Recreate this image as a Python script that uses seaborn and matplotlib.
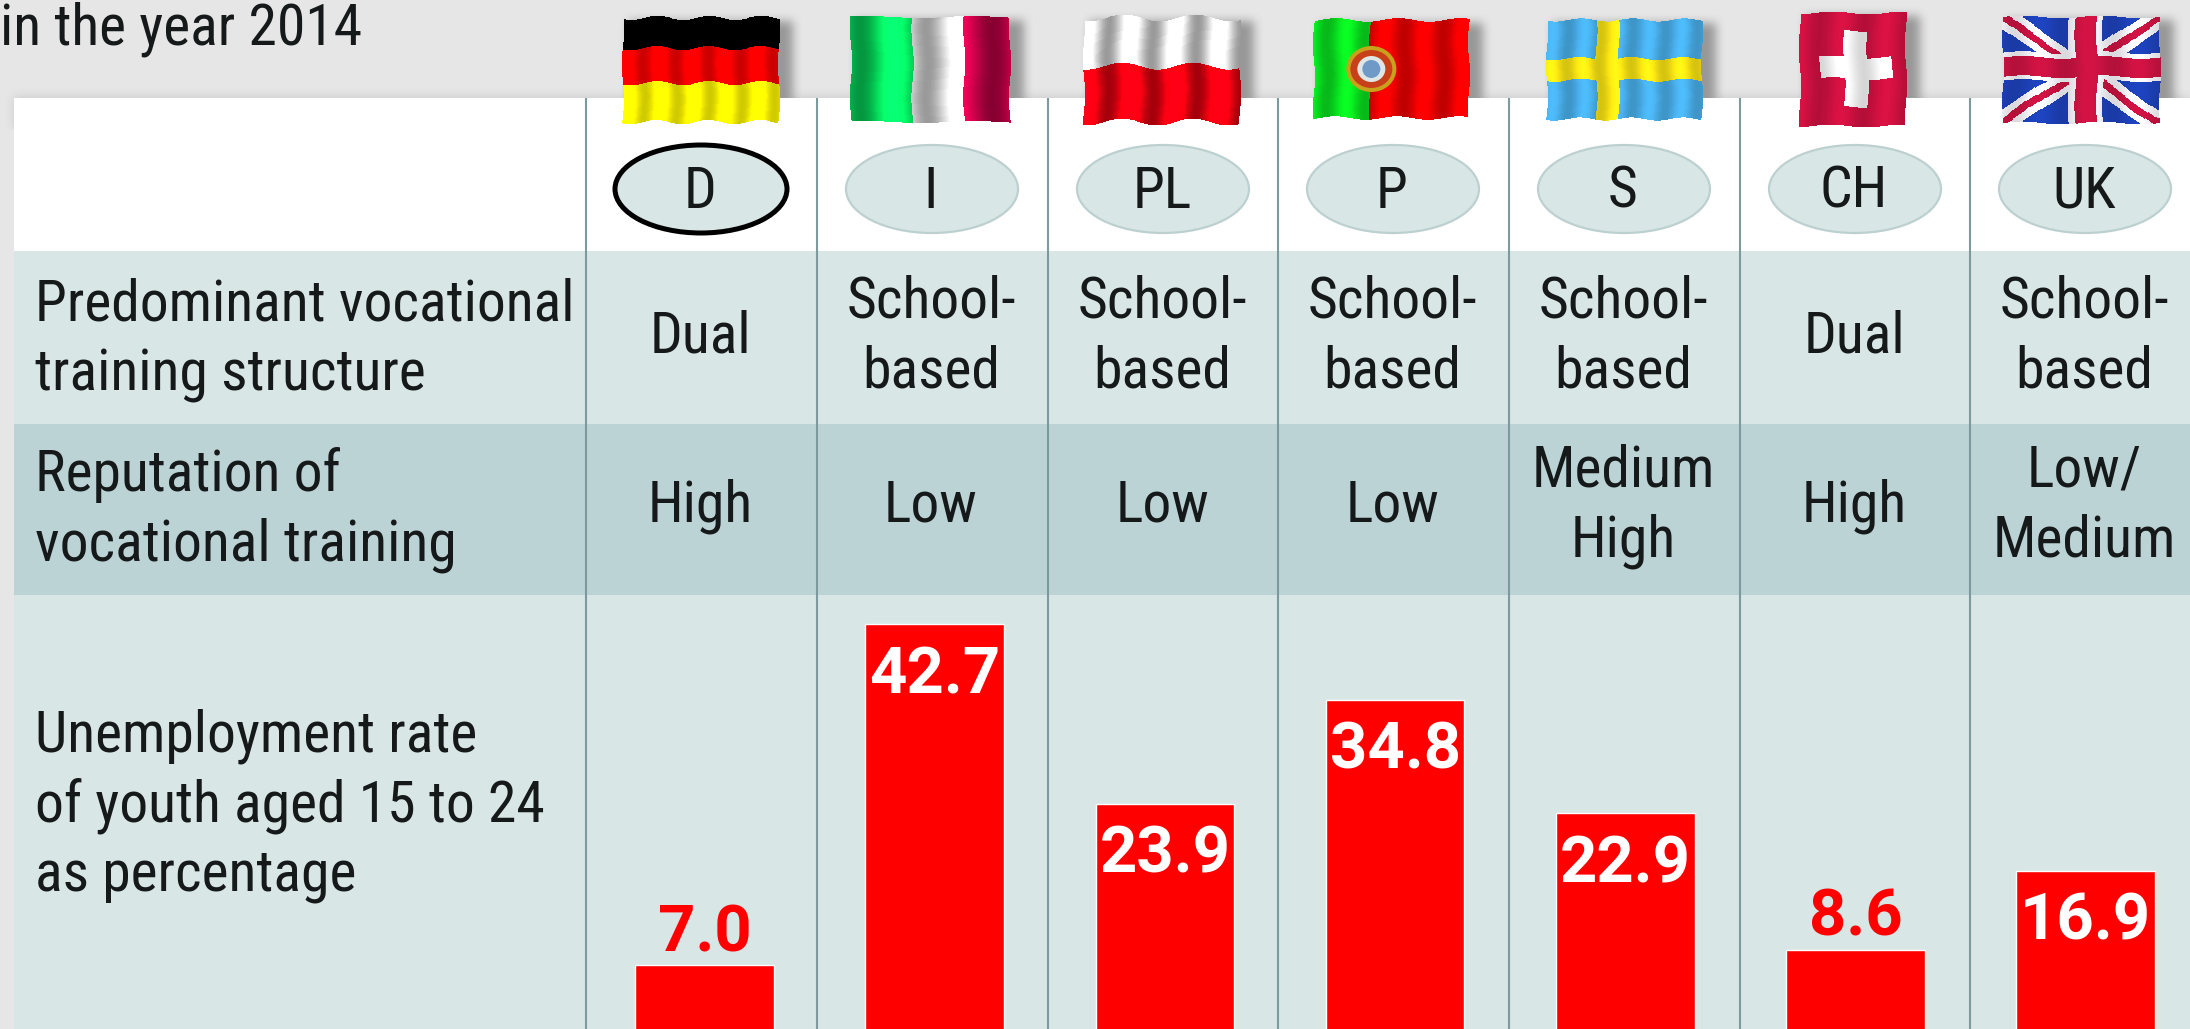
import numpy as np
import pandas as pd
import matplotlib
matplotlib.use("Agg")
import matplotlib.pyplot as plt
from matplotlib import font_manager as fm
from matplotlib.patches import Rectangle, Ellipse
import seaborn as sns

# ---------- data ----------
codes = ["D", "I", "PL", "P", "S", "CH", "UK"]
structure = ["Dual", "School-\nbased", "School-\nbased", "School-\nbased", "School-\nbased", "Dual", "School-\nbased"]
reputation = ["High", "Low", "Low", "Low", "Medium\nHigh", "High", "Low/\nMedium"]
rates = [7.0, 42.7, 23.9, 34.8, 22.9, 8.6, 16.9]
rate_labels = ["7.0", "42.7", "23.9", "34.8", "22.9", "8.6", "16.9"]
label_inside = [False, True, True, True, True, False, True]
title_fragment = "in the year 2014"
row_structure = "Predominant vocational\ntraining structure"
row_reputation = "Reputation of\nvocational training"
row_rate = "Unemployment rate\nof youth aged 15 to 24\nas percentage"

# ---------- layout (pixels of the 2190x1029 canvas) ----------
W, H = 2190, 1029
GREY, WHITE, PALE, MID = "#e6e6e6", "#ffffff", "#d9e6e6", "#bcd3d6"
RULE, RED, INK = "#7d9a9e", "#ff0000", "#16191a"
col_lines = [586, 817, 1048, 1278, 1509, 1740, 1970]
px_per_unit, base_px, first_bar, bar_step, bar_w = 9.55, 1032, 704.5, 230.2, 138.5

sns.set_theme(style="white")
names = {f.name for f in fm.fontManager.ttflist}
FONT = next((n for n in ["Roboto Condensed", "Open Sans Condensed", "Roboto"] if n in names), "DejaVu Sans")
plt.rcParams["font.family"] = [FONT, "DejaVu Sans"]
FS = 41.5
LS = 1.36
VALUE_FONT = "Roboto"

fig = plt.figure(figsize=(W / 100, H / 100), dpi=100, facecolor=GREY)
lay = fig.add_axes([0, 0, 1, 1], zorder=1)
lay.set_axis_off()


def blur(a, n):
    k = np.ones(n) / n
    for _ in range(2):
        a = np.apply_along_axis(lambda r: np.convolve(r, k, mode="same"), 0, a)
        a = np.apply_along_axis(lambda r: np.convolve(r, k, mode="same"), 1, a)
    return a


# flag boxes: x0, x1, y0, y1 in pixels
flag_boxes = [(623, 779, 18, 122), (851, 1010, 17, 122), (1084, 1240, 18, 122),
              (1314, 1469, 20, 118), (1547, 1702, 20, 119), (1800, 1906, 13, 126),
              (2003, 2160, 17, 123)]

# soft shadows in the grey band
mask = np.zeros((130, W))
for x0, x1, y0, y1 in flag_boxes:
    mask[y0 + 3:y1, x0 + 6:min(x1 + 14, W)] = 1
mask[97:, 14:] = np.maximum(mask[97:, 14:], 0.35)
sh = blur(mask, 11)
rgba = np.zeros((130, W, 4))
rgba[..., :3] = 0.35
rgba[..., 3] = sh * 0.55
lay.imshow(rgba, extent=(0, W, 130, 0), aspect="auto", zorder=1, interpolation="bilinear")

# table bands
lay.add_patch(Rectangle((14, 98), W - 14, 153, fc=WHITE, ec="none", zorder=2))
lay.add_patch(Rectangle((14, 251), W - 14, 173, fc=PALE, ec="none", zorder=2))
lay.add_patch(Rectangle((14, 424), W - 14, 171, fc=MID, ec="none", zorder=2))
lay.add_patch(Rectangle((14, 595), W - 14, H - 595, fc=PALE, ec="none", zorder=2))
for x in col_lines:
    lay.plot([x, x], [98, H], color=RULE, lw=1.5, zorder=3, solid_capstyle="butt")


# flags
def c(h):
    return np.array(matplotlib.colors.to_rgb(h))


def paint(shape, u, v):
    m = np.zeros(u.shape + (3,))
    if shape == "D":
        m[v < 0.29] = c("#000000")
        m[(v >= 0.29) & (v < 0.63)] = c("#f20000")
        m[v >= 0.63] = c("#f7f000")
    elif shape == "I":
        m[u < 0.39] = c("#05d85a")
        m[(u >= 0.39) & (u < 0.71)] = c("#dcdcdc")
        m[u >= 0.71] = c("#c00045")
    elif shape == "PL":
        m[v < 0.46] = c("#dcdcdc")
        m[v >= 0.46] = c("#ea0010")
    elif shape == "P":
        m[u < 0.36] = c("#08dc1e")
        m[u >= 0.36] = c("#e40000")
    elif shape == "S":
        m[:] = c("#46a9e2")
        m[(np.abs(u - 0.39) < 0.07) | (np.abs(v - 0.5) < 0.11)] = c("#f2de12")
    elif shape == "CH":
        m[:] = c("#c8103e")
        m[((u > 0.19) & (u < 0.87) & (v > 0.39) & (v < 0.58))] = c("#eeeeee")
        m[((u > 0.42) & (u < 0.64) & (v > 0.15) & (v < 0.83))] = c("#eeeeee")
    elif shape == "UK":
        m[:] = c("#1c3fb4")
        m[(np.abs(v - u) < 0.12) | (np.abs(v - (1 - u)) < 0.12)] = c("#eeeef2")
        m[(np.abs(v - u) < 0.04) | (np.abs(v - (1 - u)) < 0.04)] = c("#c4123f")
        m[(np.abs(u - 0.53) < 0.11) | (np.abs(v - 0.47) < 0.13)] = c("#eeeef2")
        m[(np.abs(u - 0.53) < 0.07) | (np.abs(v - 0.47) < 0.09)] = c("#c4123f")
    return m


wave = {"D": (2.2, 3.0, 0.1, 0.16), "I": (1.0, 1.5, 0.6, 0.30), "PL": (3.5, 2.2, 0.2, 0.30),
        "P": (1.8, 2.5, 0.4, 0.16), "S": (1.6, 3.0, 0.1, 0.12), "CH": (1.5, 1.5, 0.3, 0.10),
        "UK": (1.4, 2.0, 0.5, 0.08)}
for code, (x0, x1, y0, y1) in zip(codes, flag_boxes):
    amp, f, ph, sh_amt = wave[code]
    ue, ve = np.meshgrid(np.linspace(0, 1, 161), np.linspace(0, 1, 111))
    X = x0 + ue * (x1 - x0) + 1.2 * np.sin(2 * np.pi * (ve * 1.5 + ph))
    Y = y0 + ve * (y1 - y0) + amp * np.sin(2 * np.pi * (ue * f + ph))
    u, v = np.meshgrid((np.linspace(0, 1, 161)[:-1] + 1 / 320), (np.linspace(0, 1, 111)[:-1] + 1 / 220))
    col = paint(code, u, v)
    shade = 1 + sh_amt * np.sin(2 * np.pi * (u * f * 1.6 + ph))
    col = np.clip(col * shade[..., None], 0, 1)
    lay.pcolormesh(X, Y, col, shading="flat", zorder=5)
    if code == "P":
        cx, cy = x0 + 0.37 * (x1 - x0), 69
        for rx, ry, fc in [(25, 23, "#c9a21c"), (21, 19, "#c8401a"), (14, 13, "#dfe6e6"), (9, 9, "#6f9ac8")]:
            lay.add_patch(Ellipse((cx, cy), 2 * rx, 2 * ry, fc=fc, ec="none", zorder=6))

# country ellipses and table text
for i, x in enumerate(col_lines):
    cx = x + 114
    home = codes[i] == "D"
    lay.add_patch(Ellipse((cx + 1, 189), 172, 88, fc=PALE,
                          ec="#000000" if home else "#bdd0d0", lw=3.6 if home else 1.6, zorder=4))
    lay.text(cx, 192, codes[i], ha="center", va="center", fontsize=FS, color=INK, zorder=6)
    lay.text(cx, 337, structure[i], ha="center", va="center", fontsize=FS, color=INK, linespacing=LS, zorder=6)
    lay.text(cx, 506, reputation[i], ha="center", va="center", fontsize=FS, color=INK, linespacing=LS, zorder=6)

lay.text(35, 340, row_structure, ha="left", va="center", fontsize=FS, color=INK, linespacing=LS, zorder=6)
lay.text(35, 510, row_reputation, ha="left", va="center", fontsize=FS, color=INK, linespacing=LS, zorder=6)
lay.text(35, 806, row_rate, ha="left", va="center", fontsize=FS, color=INK, linespacing=1.31, zorder=6)
lay.text(0, 29, title_fragment, ha="left", va="center", fontsize=FS, color=INK, zorder=6)
lay.set_xlim(0, W)
lay.set_ylim(H, 0)

# bars through seaborn
ax = fig.add_axes([0, 0, 1, 1], zorder=2)
df = pd.DataFrame({"country": codes, "rate": rates})
sns.barplot(data=df, x="country", y="rate", order=codes, color=RED, saturation=1,
            width=bar_w / bar_step, ax=ax)
ax.set_xlim(-first_bar / bar_step, (W - first_bar) / bar_step)
ax.set_ylim((base_px - H) / px_per_unit, base_px / px_per_unit)
ax.patch.set_alpha(0)
ax.set_axis_off()
for i, (val, txt, inside) in enumerate(zip(rates, rate_labels, label_inside)):
    ax.annotate(txt, xy=(i, val), xytext=(0, -69 if inside else 14), textcoords="offset pixels",
                ha="center", va="baseline", fontsize=47, fontweight="bold", family=[VALUE_FONT, "DejaVu Sans"],
                color="white" if inside else RED)

fig.savefig("out.png", dpi=100, facecolor=GREY)
